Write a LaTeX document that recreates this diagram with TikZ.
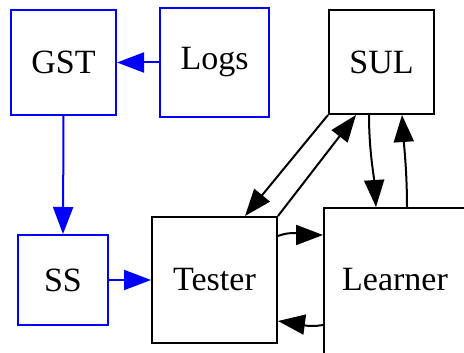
\documentclass[tikz,border=0pt]{standalone}
\usepackage{fontspec}
\setmainfont{Liberation Serif}
\usetikzlibrary{arrows.meta,calc}
\begin{document}
\begin{tikzpicture}[x=1pt,y=-1pt,
  box/.style={draw, line width=2pt, rectangle, inner sep=0pt,
    font=\fontsize{34}{38}\selectfont},
  bluebox/.style={box, draw=blue},
  arr/.style={line width=2pt, -{Triangle[length=27pt,width=20pt]}},
  bluearr/.style={arr, draw=blue, fill=blue}]
\useasboundingbox (0,0) rectangle (464,353);
\fill[white] (0,0) rectangle (464,353);

% nodes
\node[bluebox, minimum width=105pt, minimum height=105pt] (gst) at (63.5,62.5) {GST};
\node[bluebox, minimum width=109pt, minimum height=109pt] (logs) at (214.5,62.5) {Logs};
\node[box, minimum width=105pt, minimum height=104pt] (sul) at (381.5,62) {SUL};
\node[bluebox, minimum width=90pt, minimum height=90pt] (ss) at (63,280) {SS};
\node[box, minimum width=125pt, minimum height=126pt] (tester) at (214.5,280) {Tester};
\node[box, minimum width=148pt, minimum height=152pt, anchor=north west] (learner) at (323,207) {};
\node[font=\fontsize{34}{38}\selectfont, inner sep=0pt] (learnertext) at (395,280) {Learner};

% blue flow
\draw[bluearr] (logs.west) -- (gst.east);
\draw[bluearr] (gst.south) -- (ss.north);
\draw[bluearr] (ss.east) -- (tester.west);

% Tester <-> SUL
\draw[arr] (sul.south west) -- ($(tester.north west)+(94,0)$);
\draw[arr] (tester.north east) -- ($(sul.south west)+(28,0)$);

% SUL <-> Learner
\draw[arr] ($(sul.south west)+(41,0)$) .. controls +(0,35) and +(-2,-30) .. ($(learner.north west)+(53,0)$);
\draw[arr] ($(learner.north west)+(84,0)$) .. controls +(0,-35) and +(2,30) .. ($(sul.south west)+(74,0)$);

% Tester <-> Learner
\draw[arr] ($(tester.north east)+(0,20)$) .. controls +(15,-6) and +(-15,0) .. ($(learner.north west)+(0,28)$);
\draw[arr] ($(learner.north west)+(0,118)$) .. controls +(-15,3) and +(15,2) .. ($(tester.north east)+(0,105)$);
\end{tikzpicture}
\end{document}
